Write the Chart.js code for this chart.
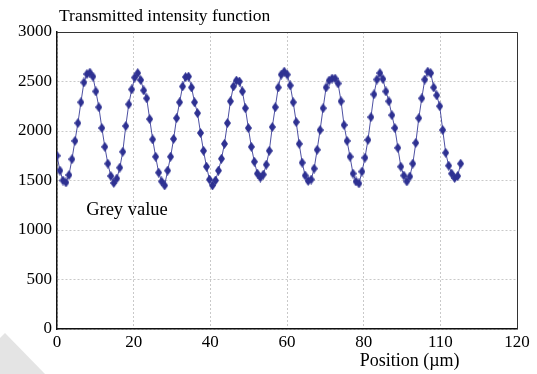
<!DOCTYPE html>
<html>
<head>
<meta charset="utf-8">
<script src="https://cdn.jsdelivr.net/npm/chart.js@4.4.0/dist/chart.umd.min.js"></script>
<style>
  html, body { margin: 0; padding: 0; background: #fff; }
  #chart { display: block; }
</style>
</head>
<body>
<canvas id="chart" width="537" height="374"></canvas>
<script>
// ─── Data ─────────────────────────────────────────────────────────────────────
const positions = [
  0, 0.78, 1.56, 2.34, 3.12, 3.9, 4.68, 5.46, 6.24, 7.02,
  7.8, 8.58, 9.36, 10.14, 10.92, 11.7, 12.48, 13.26, 14.04, 14.82,
  15.6, 16.38, 17.16, 17.94, 18.72, 19.5, 20.28, 21.06, 21.84, 22.62,
  23.4, 24.18, 24.96, 25.74, 26.52, 27.3, 28.08, 28.86, 29.64, 30.42,
  31.2, 31.98, 32.76, 33.54, 34.32, 35.1, 35.88, 36.66, 37.44, 38.22,
  39, 39.78, 40.56, 41.34, 42.12, 42.9, 43.68, 44.46, 45.24, 46.02,
  46.8, 47.58, 48.36, 49.14, 49.92, 50.7, 51.48, 52.26, 53.04, 53.82,
  54.6, 55.38, 56.16, 56.94, 57.72, 58.5, 59.28, 60.06, 60.84, 61.62,
  62.4, 63.18, 63.96, 64.74, 65.52, 66.3, 67.08, 67.86, 68.64, 69.42,
  70.2, 70.98, 71.76, 72.54, 73.32, 74.1, 74.88, 75.66, 76.44, 77.22,
  78, 78.78, 79.56, 80.34, 81.12, 81.9, 82.68, 83.46, 84.24, 85.02,
  85.8, 86.58, 87.36, 88.14, 88.92, 89.7, 90.48, 91.26, 92.04, 92.82,
  93.6, 94.38, 95.16, 95.94, 96.72, 97.5, 98.28, 99.06, 99.84, 100.62,
  101.4, 102.18, 102.96, 103.74, 104.52, 105.3
];

const greyValues = [
  1750, 1600, 1500, 1480, 1555, 1715, 1900, 2080, 2290, 2490,
  2575, 2590, 2550, 2400, 2240, 2030, 1840, 1670, 1545, 1475,
  1520, 1630, 1790, 2050, 2270, 2420, 2540, 2585, 2515, 2410,
  2330, 2120, 1915, 1740, 1580, 1490, 1450, 1600, 1740, 1920,
  2130, 2290, 2450, 2545, 2550, 2440, 2290, 2180, 1980, 1800,
  1640, 1510, 1450, 1500, 1600, 1720, 1870, 2080, 2300, 2450,
  2510, 2500, 2400, 2230, 2030, 1840, 1690, 1570, 1530, 1560,
  1660, 1800, 2040, 2240, 2440, 2570, 2600, 2570, 2460, 2290,
  2090, 1870, 1680, 1550, 1495, 1510, 1620, 1810, 2010, 2230,
  2440, 2510, 2530, 2530, 2480, 2300, 2060, 1900, 1740, 1570,
  1490, 1470, 1590, 1730, 1910, 2140, 2370, 2520, 2585, 2525,
  2400, 2300, 2160, 2030, 1830, 1640, 1550, 1490, 1540, 1670,
  1880, 2130, 2330, 2520, 2600, 2585, 2440, 2360, 2250, 2010,
  1780, 1650, 1570, 1525, 1545, 1670
];

// the source chart really labels the tick at 100 as "110"
const xTickValues = [0, 20, 40, 60, 80, 100, 120];
const xTickLabels = ["0", "20", "40", "60", "80", "110", "120"];
const yTickValues = [0, 500, 1000, 1500, 2000, 2500, 3000];

const chartTitle = "Transmitted intensity function";
const seriesLabel = "Grey value";
const xAxisTitle = "Position (\u00b5m)";

const NAVY = "#2e3192";
const SERIF = "'Liberation Serif', 'DejaVu Serif', serif";

// ─── Tall diamond marker ──────────────────────────────────────────────────────
const diamond = document.createElement("canvas");
diamond.width = 7;
diamond.height = 10;
{
  const c = diamond.getContext("2d");
  c.fillStyle = NAVY;
  c.beginPath();
  c.moveTo(3.5, 0);
  c.lineTo(7, 5);
  c.lineTo(3.5, 10);
  c.lineTo(0, 5);
  c.closePath();
  c.fill();
}

// ─── Frame, page curl and free text ───────────────────────────────────────────
const decor = {
  id: "decor",
  beforeDraw(chart) {
    const ctx = chart.ctx;
    ctx.save();
    ctx.fillStyle = "#fff";
    ctx.fillRect(0, 0, chart.width, chart.height);
    ctx.fillStyle = "#e4e4e4";
    ctx.beginPath();
    ctx.moveTo(0, 338);
    ctx.lineTo(5, 333);
    ctx.lineTo(45, 374);
    ctx.lineTo(0, 374);
    ctx.closePath();
    ctx.fill();
    ctx.restore();
  },
  afterDraw(chart) {
    const { ctx, chartArea: a, scales } = chart;
    ctx.save();
    ctx.strokeStyle = "#333";
    ctx.lineWidth = 1;
    ctx.beginPath();
    ctx.moveTo(a.left, a.top + 0.5);
    ctx.lineTo(a.right + 0.5, a.top + 0.5);
    ctx.lineTo(a.right + 0.5, a.bottom);
    ctx.stroke();

    ctx.fillStyle = "#000";
    ctx.textBaseline = "middle";
    ctx.textAlign = "left";
    ctx.font = "17.5px " + SERIF;
    ctx.fillText(chartTitle, a.left + 2, 16);

    ctx.font = "18.5px " + SERIF;
    ctx.fillText(seriesLabel, scales.x.getPixelForValue(7.6), scales.y.getPixelForValue(1200));

    ctx.textAlign = "center";
    ctx.font = "18px " + SERIF;
    ctx.fillText(xAxisTitle, scales.x.getPixelForValue(92), 361);
    ctx.restore();
  }
};

const points = positions.map((x, i) => ({ x, y: greyValues[i] }));

new Chart(document.getElementById("chart"), {
  type: "line",
  data: {
    datasets: [{
      label: seriesLabel,
      data: points,
      borderColor: "rgba(46,49,146,0.85)",
      borderWidth: 1,
      pointStyle: diamond,
      pointRadius: 5,
      pointHoverRadius: 5,
      tension: 0,
      fill: false
    }]
  },
  options: {
    responsive: false,
    animation: false,
    devicePixelRatio: 1,
    layout: { padding: { top: 32, right: 20, left: 0, bottom: 0 } },
    plugins: {
      legend: { display: false },
      title: { display: false },
      tooltip: { enabled: false }
    },
    scales: {
      x: {
        type: "linear",
        min: 0,
        max: 120,
        afterBuildTicks: s => { s.ticks = xTickValues.map(v => ({ value: v })); },
        afterFit: s => { s.height = 45; },
        ticks: {
          callback: v => xTickLabels[xTickValues.indexOf(v)],
          color: "#000",
          font: { family: SERIF, size: 17 },
          padding: 3,
          maxRotation: 0,
          autoSkip: false
        },
        grid: { color: "#c9c9c9", drawTicks: false },
        border: { color: "#111", width: 1.5, dash: [2, 2] }
      },
      y: {
        min: 0,
        max: 3000,
        afterBuildTicks: s => { s.ticks = yTickValues.map(v => ({ value: v })); },
        afterFit: s => { s.width = 57; },
        ticks: {
          callback: v => String(v),
          color: "#000",
          font: { family: SERIF, size: 17 },
          padding: 5
        },
        grid: { color: "#c9c9c9", drawTicks: false },
        border: { color: "#111", width: 1.5, dash: [2, 2] }
      }
    }
  },
  plugins: [decor]
});
</script>
</body>
</html>
